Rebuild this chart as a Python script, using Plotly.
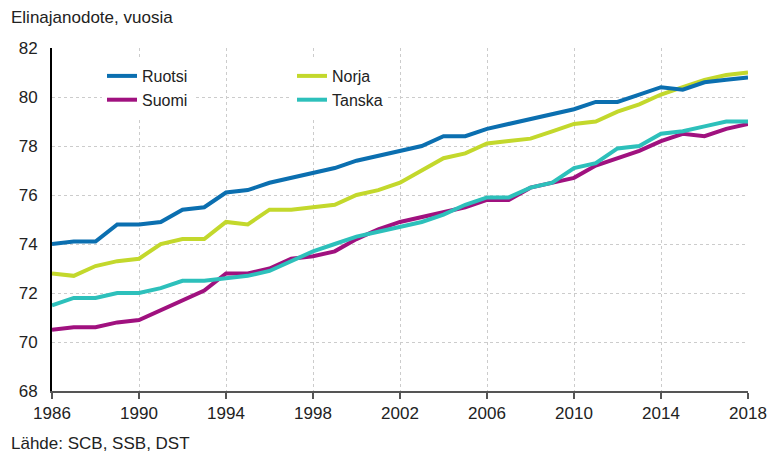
import plotly.graph_objects as go

years = list(range(1986, 2019))
ruotsi = [74.0, 74.1, 74.1, 74.8, 74.8, 74.9, 75.4, 75.5, 76.1, 76.2, 76.5, 76.7, 76.9, 77.1, 77.4, 77.6, 77.8,
          78.0, 78.4, 78.4, 78.7, 78.9, 79.1, 79.3, 79.5, 79.8, 79.8, 80.1, 80.4, 80.3, 80.6, 80.7, 80.8]
norja = [72.8, 72.7, 73.1, 73.3, 73.4, 74.0, 74.2, 74.2, 74.9, 74.8, 75.4, 75.4, 75.5, 75.6, 76.0, 76.2, 76.5,
         77.0, 77.5, 77.7, 78.1, 78.2, 78.3, 78.6, 78.9, 79.0, 79.4, 79.7, 80.1, 80.4, 80.7, 80.9, 81.0]
suomi = [70.5, 70.6, 70.6, 70.8, 70.9, 71.3, 71.7, 72.1, 72.8, 72.8, 73.0, 73.4, 73.5, 73.7, 74.2, 74.6, 74.9,
         75.1, 75.3, 75.5, 75.8, 75.8, 76.3, 76.5, 76.7, 77.2, 77.5, 77.8, 78.2, 78.5, 78.4, 78.7, 78.9]
tanska = [71.5, 71.8, 71.8, 72.0, 72.0, 72.2, 72.5, 72.5, 72.6, 72.7, 72.9, 73.3, 73.7, 74.0, 74.3, 74.5, 74.7,
          74.9, 75.2, 75.6, 75.9, 75.9, 76.3, 76.5, 77.1, 77.3, 77.9, 78.0, 78.5, 78.6, 78.8, 79.0, 79.0]

x_ticks = list(range(1986, 2019, 4))
y_ticks = list(range(68, 83, 2))

FONT = "Liberation Sans, Arial, sans-serif"
W, H = 769, 457
PL, PT, PR, PB = 52, 48, 748, 391          # plot area in page pixels
ML, MT, MR, MB = PL, PT, W - PR, H - PB
PW, PH = PR - PL, PB - PT

fig = go.Figure()
series = [
    ("Ruotsi", ruotsi, "#0B6FB0", "legend", 1),
    ("Suomi", suomi, "#A0117F", "legend", 2),
    ("Norja", norja, "#C3D82C", "legend2", 1),
    ("Tanska", tanska, "#2DC0BB", "legend2", 2),
]
for name, vals, col, lg, rank in [series[1], series[3], series[2], series[0]]:
    fig.add_trace(go.Scatter(x=years, y=vals, mode="lines", name=name, legendrank=rank,
                             line=dict(color=col, width=4), legend=lg))

legend_common = dict(bgcolor="white", borderwidth=0, font=dict(family=FONT, size=16, color="#222"),
                     yanchor="top", xanchor="left", orientation="v", traceorder="normal",
                     tracegroupgap=0)
fig.update_layout(
    width=W, height=H,
    autosize=False,
    margin=dict(l=ML, r=MR, t=MT, b=MB, autoexpand=False),
    paper_bgcolor="white", plot_bgcolor="white",
    font=dict(family=FONT, size=16, color="#222"),
    legend=dict(x=(102 - PL) / PW, y=1 - (59 - PT) / PH, **legend_common),
    legend2=dict(x=(292 - PL) / PW, y=1 - (59 - PT) / PH, **legend_common),
    xaxis=dict(range=[1986, 2018], tickvals=x_ticks, ticktext=[str(v) for v in x_ticks],
               automargin=False,
               showgrid=True, gridcolor="#CCCCCC", griddash="dot", gridwidth=1,
               showline=True, linecolor="#555", linewidth=2,
               ticks="outside", ticklen=6, tickcolor="#555", tickwidth=1.5,
               tickfont=dict(family=FONT, size=17, color="#222"), zeroline=False),
    yaxis=dict(range=[68, 82], tickvals=y_ticks, ticktext=[str(v) for v in y_ticks],
               automargin=False,
               showgrid=True, gridcolor="#CCCCCC", griddash="dot", gridwidth=1,
               showline=True, linecolor="black", linewidth=2,
               ticks="", ticklabelstandoff=9,
               tickfont=dict(family=FONT, size=17, color="#222"), zeroline=False),
    annotations=[
        dict(text="Elinajanodote, vuosia", xref="paper", yref="paper",
             x=-(PL - 9) / PW, y=1 + (PT - 18) / PH, xanchor="left", yanchor="middle",
             showarrow=False, font=dict(family=FONT, size=17, color="#222")),
        dict(text="Lähde: SCB, SSB, DST", xref="paper", yref="paper",
             x=-(PL - 9) / PW, y=-(444 - PB) / PH, xanchor="left", yanchor="middle",
             showarrow=False, font=dict(family=FONT, size=17, color="#222")),
    ],
)

fig.write_html("out.html", config={"displayModeBar": False},
               post_script="document.body.style.margin='0';document.body.style.overflow='hidden';")
